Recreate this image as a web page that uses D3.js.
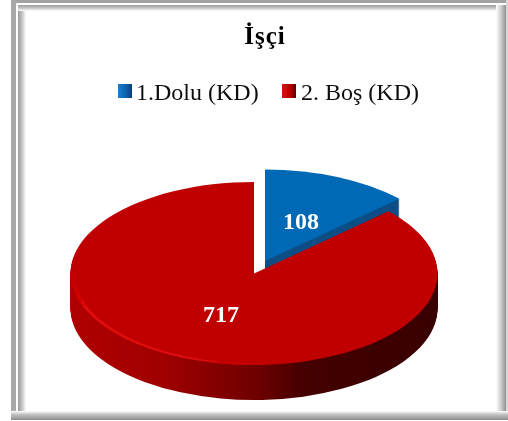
<!DOCTYPE html>
<html>
<head>
<meta charset="utf-8">
<script src="https://d3js.org/d3.v7.min.js"></script>
<style>
    html, body { margin: 0; padding: 0; background: #fff; }
    svg { display: block; }
    text { font-family: "Liberation Serif", serif; }
</style>
</head>
<body>
<script>
    var chartTitle = 'İşçi';
    var categories = ['1.Dolu (KD)', '2. Boş (KD)'];
    var values = [108, 717];
    var colors = ['#0569b5', '#c00000'];
    var wallColors = ['#0b4f86', '#7a0000'];

    var w = 508, h = 421;
    var rx = 183.5, tilt = 0.4986, depth = 35;

    var svg = d3.select('body').append('svg').attr('width', w).attr('height', h);
    var defs = svg.append('defs');

    // the reference is a slightly soft bitmap
    defs.append('filter').attr('id', 'soft')
        .attr('filterUnits', 'userSpaceOnUse')
        .attr('x', 0).attr('y', 0).attr('width', w).attr('height', h)
        .append('feGaussianBlur').attr('stdDeviation', 0.55);

    function fade(id, x1, y1, x2, y2, stops) {
        var g = defs.append('linearGradient').attr('id', id)
            .attr('x1', x1).attr('y1', y1).attr('x2', x2).attr('y2', y2);
        stops.forEach(function (s) {
            g.append('stop').attr('offset', s[0]).attr('stop-color', s[1]);
        });
    }

    var root = svg.append('g').attr('filter', 'url(#soft)');
    root.append('rect').attr('width', w).attr('height', h).attr('fill', '#fff');

    // frame bands
    var grey = '#a2a2a2';
    fade('fadeTop', 0, 0, 0, 1, [[0, '#9a9a9a'], [0.5, '#c4c4c4'], [1, '#ffffff']]);
    fade('fadeLeft', 0, 0, 1, 0, [[0, '#9a9a9a'], [0.5, '#c4c4c4'], [1, '#ffffff']]);
    fade('fadeRight', 0, 0, 1, 0, [[0, '#ffffff'], [0.55, '#c8c8c8'], [1, '#8e8e8e']]);
    fade('fadeBottom', 0, 0, 0, 1, [[0, '#ffffff'], [0.4, '#c0c0c0'], [1, '#8e8e8e']]);

    var frame = root.append('g');
    frame.append('rect').attr('x', 11).attr('y', 0).attr('width', 497).attr('height', 3).attr('fill', grey);
    frame.append('rect').attr('x', 11).attr('y', 0).attr('width', 5).attr('height', 420).attr('fill', '#a8a8a8');
    frame.append('rect').attr('x', 18).attr('y', 5).attr('width', 8).attr('height', 407).attr('fill', 'url(#fadeLeft)');
    frame.append('rect').attr('x', 18).attr('y', 5).attr('width', 482).attr('height', 6).attr('fill', 'url(#fadeTop)');
    frame.append('rect').attr('x', 496).attr('y', 5).attr('width', 10).attr('height', 407).attr('fill', 'url(#fadeRight)');
    frame.append('rect').attr('x', 506).attr('y', 0).attr('width', 2).attr('height', 420).attr('fill', '#d8d8d8');
    frame.append('rect').attr('x', 11).attr('y', 411).attr('width', 497).attr('height', 9).attr('fill', 'url(#fadeBottom)');

    // title
    root.append('text').attr('x', 265).attr('y', 44).attr('text-anchor', 'middle')
        .attr('font-size', 25).attr('font-weight', 'bold').attr('letter-spacing', 1).attr('fill', '#000')
        .text(chartTitle);

    // legend
    var legendX = [118, 282], legendTextX = [136, 301];
    fade('keyBlue', 0, 0, 1, 0, [[0, '#1a7fd0'], [0.6, '#0a5fa8'], [1, '#063f78']]);
    fade('keyRed', 0, 0, 1, 0, [[0, '#d81010'], [0.6, '#b80000'], [1, '#600000']]);
    var keyFill = ['url(#keyBlue)', 'url(#keyRed)'];
    categories.forEach(function (c, i) {
        root.append('rect').attr('x', legendX[i]).attr('y', 84).attr('width', 14).attr('height', 14)
            .attr('fill', keyFill[i]);
        root.append('text').attr('x', legendTextX[i]).attr('y', 100)
            .attr('font-size', 24).attr('fill', '#111').text(c);
    });

    // pie, first slice starts at 12 o'clock
    var slices = d3.pie().sort(null)(values);
    var arc = d3.arc().innerRadius(0).outerRadius(rx);

    var explode = [[265, 261], [254, 273.5]];

    fade('wallRed', 0, 0, 1, 0, [[0, '#b00000'], [0.25, '#a00000'], [0.5, '#700000'], [0.64, '#440000'], [1, '#380000']]);
    fade('rimRed', 0, 0, 1, 0, [[0, '#c00000'], [0.08, '#e00808'], [0.6, '#e00c0c'], [1, '#c00000']]);
    var wallFill = [wallColors[0], 'url(#wallRed)'];

    slices.forEach(function (s, i) {
        var g = root.append('g');
        // stacked copies make the side wall
        d3.range(depth, 0, -1).forEach(function (k) {
            g.append('path')
                .attr('d', arc(s))
                .attr('transform', 'translate(' + explode[i][0] + ',' + (explode[i][1] + k) + ') scale(1,' + tilt + ')')
                .attr('fill', wallFill[i]);
        });
        g.append('path')
            .attr('d', arc(s))
            .attr('transform', 'translate(' + explode[i][0] + ',' + explode[i][1] + ') scale(1,' + tilt + ')')
            .attr('fill', colors[i]);
    });

    // light rim on the front left of the red slice
    var rim = d3.arc().innerRadius(rx - 4).outerRadius(rx)
        .startAngle(Math.PI).endAngle(Math.PI * 1.5);
    root.append('path')
        .attr('d', rim())
        .attr('transform', 'translate(' + explode[1][0] + ',' + explode[1][1] + ') scale(1,' + tilt + ')')
        .attr('fill', 'url(#rimRed)');

    // value labels
    var labelPos = [[301, 229], [221, 322]];
    values.forEach(function (v, i) {
        root.append('text').attr('x', labelPos[i][0]).attr('y', labelPos[i][1])
            .attr('text-anchor', 'middle').attr('font-size', 24).attr('font-weight', 'bold')
            .attr('fill', '#fff').text(v);
    });
</script>
</body>
</html>
